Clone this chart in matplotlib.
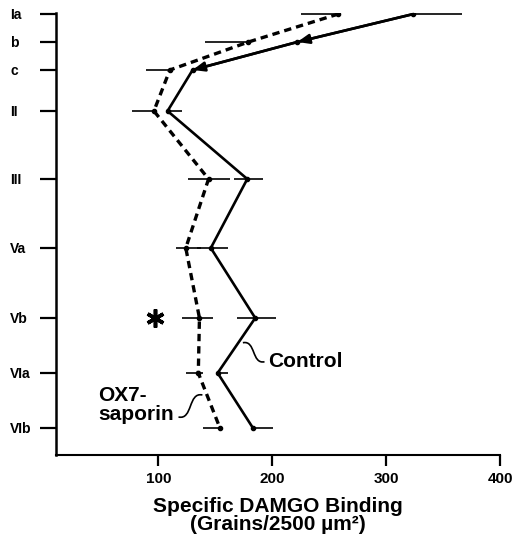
import numpy as np
import matplotlib
matplotlib.use("Agg")
import matplotlib.pyplot as plt
from matplotlib.path import Path
from matplotlib.patches import PathPatch

plt.rcParams["font.family"] = ["Liberation Sans", "DejaVu Sans"]

# ======================
# Data
# ======================
layers = ["Ia", "b", "c", "II", "III", "Va", "Vb", "VIa", "VIb"]
# relative cortical depth of each layer (axis units, top = 14)
depth = [14, 42, 70, 111, 179, 248, 318, 373, 428]

control = [324, 222, 130, 108, 178, 146, 185, 152, 183]
control_err_lo = [0, 0, 0, 0, 12, 12, 16, 0, 0]
control_err_hi = [43, 0, 0, 13, 14, 15, 18, 9, 18]

ox7 = [258, 179, 110, 96, 144, 124, 136, 135, 154]
ox7_err_lo = [33, 38, 21, 19, 18, 9, 15, 11, 15]
ox7_err_hi = [0, 0, 0, 0, 19, 13, 12, 4, 2]

x_ticks = [100, 200, 300, 400]
star_layer = "Vb"
star_x = 97

# ======================
# Drawing
# ======================
fig = plt.figure(figsize=(5.13, 5.51), dpi=100)
ax = fig.add_axes([56 / 513, 1 - 455 / 551, 444 / 513, 442 / 551])

LINE_W = 1.9
LABEL_FONT = dict(fontsize=15, fontweight="bold")

# error bars (thin horizontal strokes)
ax.errorbar(control, depth, xerr=[control_err_lo, control_err_hi], fmt="none",
            ecolor="black", elinewidth=1.2, capsize=0)
ax.errorbar(ox7, depth, xerr=[ox7_err_lo, ox7_err_hi], fmt="none",
            ecolor="black", elinewidth=1.2, capsize=0)

# series lines
ax.plot(control, depth, color="black", lw=LINE_W, solid_capstyle="butt",
        marker="o", ms=3, mfc="black", mec="black")
ax.plot(ox7, depth, color="black", lw=2.4, dashes=(2.2, 1.5),
        marker="o", ms=3, mfc="black", mec="black")

# arrow heads on the upper control segments
for i in (1, 2):
    ax.annotate("", xy=(control[i], depth[i]),
                xytext=(control[i - 1], depth[i - 1]),
                arrowprops=dict(arrowstyle="-|>,head_length=0.7,head_width=0.28",
                                color="black", lw=LINE_W, shrinkA=0, shrinkB=0))

# significance star
ax.plot(star_x, depth[layers.index(star_layer)], marker=(6, 2, 0), ms=13,
        mew=2.6, color="black")


# curly leader lines
def leader(p0, p1, ax):
    x0, y0 = p0
    x1, y1 = p1
    dx, dy = x1 - x0, y1 - y0
    verts = [(x0, y0),
             (x0 + 0.6 * dx, y0 - 0.15 * dy),
             (x0 + 0.4 * dx, y0 + 1.15 * dy),
             (x1, y1)]
    codes = [Path.MOVETO, Path.CURVE4, Path.CURVE4, Path.CURVE4]
    ax.add_patch(PathPatch(Path(verts, codes), fc="none", ec="black", lw=1.2))


# control leader from the Vb-VIa segment
i = layers.index("Vb")
t = 0.45
cx = control[i] + t * (control[i + 1] - control[i]) + 4
cy = depth[i] + t * (depth[i + 1] - depth[i])
leader((cx, cy), (cx + 19, cy + 19), ax)
ax.text(cx + 22, cy + 19, "Control", ha="left", va="center", **LABEL_FONT)

# OX7 leader from the VIa-VIb segment
i = layers.index("VIa")
t = 0.4
ox = ox7[i] + t * (ox7[i + 1] - ox7[i]) - 4
oy = depth[i] + t * (depth[i + 1] - depth[i])
leader((ox, oy), (ox - 21, oy + 22), ax)
ax.text(ox - 25, oy + 10, "OX7-\nsaporin", ha="right", va="center",
        multialignment="left", linespacing=0.95, **LABEL_FONT)

# ======================
# Axes styling
# ======================
ax.set_xlim(10, 400)
ax.set_ylim(455, 13)

for side in ("top", "right"):
    ax.spines[side].set_visible(False)
ax.spines["left"].set_linewidth(1.8)
ax.spines["bottom"].set_linewidth(1.5)

ax.set_yticks(depth)
ax.set_yticklabels(layers, fontsize=10, fontweight="bold", ha="left")
ax.tick_params(axis="y", direction="out", length=11.5, width=1.6, pad=21.6)

ax.set_xticks(x_ticks)
ax.set_xticklabels([str(v) for v in x_ticks], fontsize=11, fontweight="bold")
ax.tick_params(axis="x", direction="out", length=8, width=1.6, pad=4)

ax.set_xlabel("Specific DAMGO Binding\n(Grains/2500 \u00b5m\u00b2)",
              fontsize=15, fontweight="bold", labelpad=8, linespacing=0.95)

fig.savefig("out.png", dpi=100)
